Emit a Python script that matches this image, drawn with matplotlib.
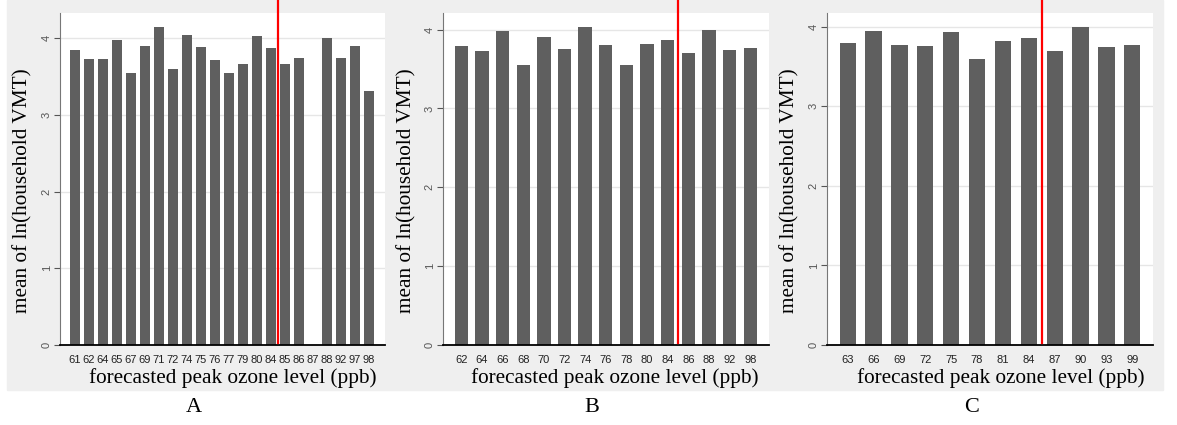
import matplotlib
matplotlib.use('Agg')
import matplotlib.pyplot as plt
from matplotlib.patches import Rectangle

W, H = 1177, 425

# data
a_levels = ['61', '62', '64', '65', '67', '69', '71', '72', '74', '75', '76',
            '77', '79', '80', '84', '85', '86', '87', '88', '92', '97', '98']
a_means = [3.85, 3.73, 3.735, 3.98, 3.55, 3.90, 4.15, 3.60, 4.04, 3.89, 3.72,
           3.55, 3.67, 4.03, 3.87, 3.67, 3.74, 0.0, 4.00, 3.74, 3.90, 3.31]

b_levels = ['62', '64', '66', '68', '70', '72', '74', '76', '78', '80', '84',
            '86', '88', '92', '98']
b_means = [3.79, 3.73, 3.98, 3.55, 3.90, 3.755, 4.03, 3.81, 3.55, 3.82, 3.865,
           3.70, 4.00, 3.745, 3.77]

c_levels = ['63', '66', '69', '72', '75', '78', '81', '84', '87', '90', '93', '99']
c_means = [3.79, 3.94, 3.765, 3.75, 3.93, 3.59, 3.82, 3.86, 3.695, 4.00, 3.74, 3.765]

# threshold between 84 and the next level
cut_index = [14.5, 10.5, 7.5]

BAR = '#5f5f5f'
BG = '#efefef'
serif = ['Liberation Serif', 'DejaVu Serif']
narrow = ['Liberation Sans Narrow', 'Liberation Sans', 'DejaVu Sans']


def px_box(left, right, top=13, bottom=345):
    return [left / W, 1 - bottom / H, (right - left) / W, (bottom - top) / H]


def draw_panel(fig, box, levels, means, ytop, xlim, width, cut, ylab_x, xlab_x, letter, letter_x):
    ax = fig.add_axes(box)
    ax.set_facecolor('white')
    x = range(len(levels))
    ax.bar(x, means, width=width, color=BAR, zorder=2)
    ax.set_xlim(*xlim)
    ax.set_ylim(0, ytop)
    ax.set_yticks([0, 1, 2, 3, 4])
    ax.set_yticklabels(['0', '1', '2', '3', '4'], rotation=90, va='center',
                       fontsize=8, family=narrow, color='#333333')
    ax.set_xticks(list(x))
    ax.set_xticklabels(levels, fontsize=8, family=narrow, color='#222222')
    ax.tick_params(axis='x', length=0, pad=7)
    ax.tick_params(axis='y', length=4, width=0.8, pad=2, colors='#555555')
    ax.grid(axis='y', color='#e6e6e6', linewidth=1, zorder=0)
    ax.set_axisbelow(True)
    for s in ['top', 'right']:
        ax.spines[s].set_visible(False)
    ax.spines['left'].set_color('#777777')
    ax.spines['bottom'].set_color('black')
    ax.spines['bottom'].set_linewidth(1.3)
    ax.axvline(cut, ymin=0.006, ymax=1.04, color='red', linewidth=1.6,
               clip_on=False, zorder=3)
    fig.text(ylab_x / W, 1 - 191 / H, 'mean of ln(household VMT)', rotation=90,
             ha='center', va='center', fontsize=15.3, family=serif)
    fig.text(xlab_x / W, 1 - 378 / H, 'forecasted peak ozone level (ppb)',
             ha='center', va='center', fontsize=15.3, family=serif)
    fig.text(letter_x / W, 1 - 407 / H, letter, ha='center', va='center',
             fontsize=16, family=serif)
    return ax


fig = plt.figure(figsize=(W / 100, H / 100), dpi=100)
fig.patch.set_facecolor('white')
fig.patches.append(Rectangle((7 / W, 1 - 390 / H), (1163 - 7) / W, 390 / H,
                             color=BG, transform=fig.transFigure, zorder=-10))

draw_panel(fig, px_box(60, 385), a_levels, a_means, 4.33, (-1.07, 22.14), 0.67,
           cut_index[0], 23, 233, 'A', 194)
draw_panel(fig, px_box(443, 769), b_levels, b_means, 4.21, (-0.89, 14.91), 0.65,
           cut_index[1], 407, 615, 'B', 592)
draw_panel(fig, px_box(827, 1153), c_levels, c_means, 4.17, (-0.80, 11.80), 0.63,
           cut_index[2], 790, 1001, 'C', 972)

fig.savefig('out.png', dpi=100)
